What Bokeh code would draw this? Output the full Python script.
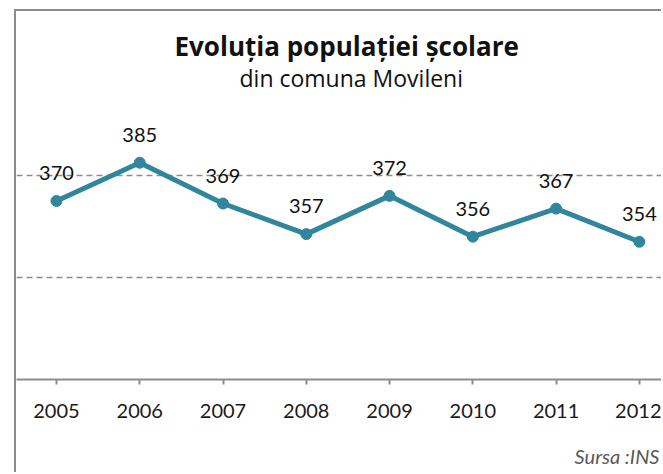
from bokeh.plotting import figure
from bokeh.models import ColumnDataSource, LabelSet, Range1d, FixedTicker, Title
from bokeh.core.properties import value
from bokeh.embed import file_html
from bokeh.resources import INLINE

# ---- data ----
years = [2005, 2006, 2007, 2008, 2009, 2010, 2011, 2012]
pupils = [370, 385, 369, 357, 372, 356, 367, 354]
grid_values = [340, 380]
title_text = "Evoluția populației școlare"
subtitle_text = "din comuna Movileni"
source_text = "Sursa :INS"

src = ColumnDataSource(dict(year=years, pupils=pupils, label=[str(v) for v in pupils]))

TEAL = "#31859C"
GRAY = "#8c8c8c"
FONT = "Lato"
TFONT = "Open Sans"

p = figure(width=647, height=463, output_backend="svg", toolbar_location=None,
           title=None,
           x_range=Range1d(2004.52, 2012.29), y_range=Range1d(300, 409),
           min_border_left=0, min_border_right=0, min_border_top=90, min_border_bottom=95)
p.styles = {"margin-left": "14px", "margin-top": "9px",
            "border-left": "2px solid #8c8c8c", "border-top": "2px solid #8c8c8c"}

p.outline_line_color = None
p.background_fill_color = "white"
p.border_fill_color = "white"

p.yaxis.visible = False
p.xgrid.visible = False
p.ygrid.ticker = FixedTicker(ticks=grid_values)
p.ygrid.grid_line_color = GRAY
p.ygrid.grid_line_dash = "6 4"
p.ygrid.grid_line_width = 1.5

p.xaxis.ticker = FixedTicker(ticks=years)
p.xaxis.axis_line_color = GRAY
p.xaxis.axis_line_width = 2
p.xaxis.major_tick_line_color = GRAY
p.xaxis.major_tick_line_width = 2
p.xaxis.major_tick_out = 5
p.xaxis.major_tick_in = 0
p.xaxis.minor_tick_line_color = None
p.xaxis.major_label_text_font = FONT
p.xaxis.major_label_text_font_size = "20px"
p.xaxis.major_label_text_color = "#1a1a1a"
p.xaxis.major_label_standoff = 19

p.line(x="year", y="pupils", source=src, line_color=TEAL, line_width=5)
p.scatter(x="year", y="pupils", source=src, size=11, fill_color=TEAL, line_color=TEAL)

labels = LabelSet(x="year", y="pupils", text="label", source=src, y_offset=21,
                  text_align="center", text_baseline="alphabetic",
                  text_font=value(FONT), text_font_size="20px", text_color="#111111")
p.add_layout(labels)

sub = Title(text=subtitle_text, align="left", text_font=TFONT, text_font_size="23px",
            text_font_style="normal", text_color="#111111", offset=223, standoff=16)
p.add_layout(sub, "above")
main = Title(text=title_text, align="left", text_font=TFONT, text_font_size="26px",
             text_font_style="bold", text_color="#111111", offset=158, standoff=-25)
p.add_layout(main, "above")

spacer = Title(text=" ", text_font_size="1px", standoff=14)
p.add_layout(spacer, "below")
srct = Title(text=source_text, align="right", text_font=FONT, text_font_size="20px",
             text_font_style="italic", text_color="#595959", standoff=8, offset=4)
p.add_layout(srct, "below")

open("out.html", "w").write(file_html(p, INLINE))
